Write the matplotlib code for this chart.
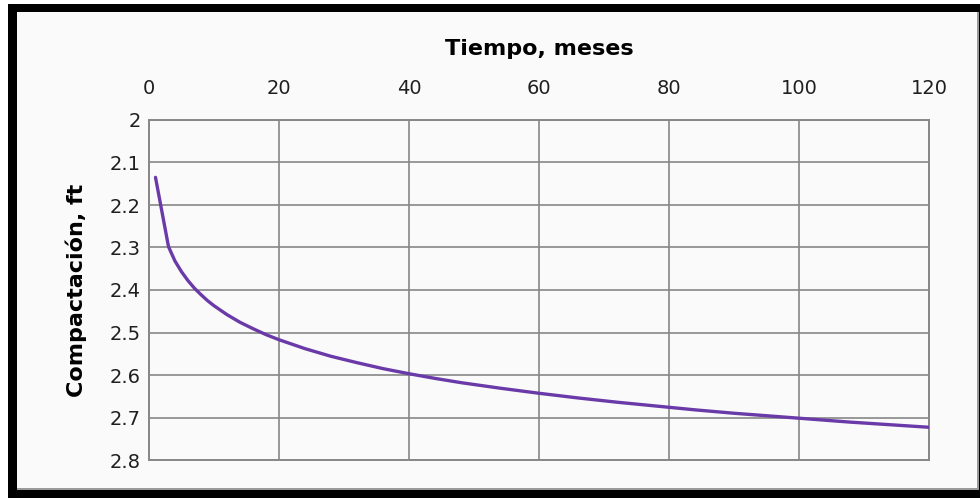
import numpy as np
import matplotlib
matplotlib.use("Agg")
import matplotlib.pyplot as plt
from matplotlib.patches import Rectangle

# datos
tiempo = [1, 3, 4, 5, 6, 7, 8, 9, 10, 12, 14, 16, 18, 20, 24, 28, 32, 36, 40, 44,
          48, 54, 60, 66, 72, 78, 84, 90, 96, 102, 108, 114, 120]
compactacion = [2.135, 2.298, 2.332, 2.357, 2.378, 2.396, 2.411, 2.425, 2.437, 2.458,
                2.476, 2.491, 2.505, 2.517, 2.538, 2.556, 2.571, 2.585, 2.597, 2.608,
                2.618, 2.631, 2.643, 2.654, 2.664, 2.673, 2.682, 2.690, 2.697, 2.704,
                2.711, 2.717, 2.723]
xticks = [0, 20, 40, 60, 80, 100, 120]
yticks = [2, 2.1, 2.2, 2.3, 2.4, 2.5, 2.6, 2.7, 2.8]
ytick_labels = ['2', '2.1', '2.2', '2.3', '2.4', '2.5', '2.6', '2.7', '2.8']

W, H = 980, 498
plt.rcParams['font.family'] = ['DejaVu Sans']

fig = plt.figure(figsize=(W / 100, H / 100), dpi=100, facecolor='white')

# marco negro del grafico
fig.patches.append(Rectangle((8 / W, 0), (W - 8) / W, (H - 4) / H, transform=fig.transFigure,
                             facecolor='black', edgecolor='none', zorder=-3))
fig.patches.append(Rectangle((17 / W, 8 / H), 962 / W, (H - 20) / H, transform=fig.transFigure,
                             facecolor='#9a9a9a', edgecolor='none', zorder=-2))
fig.patches.append(Rectangle((17 / W, 10 / H), 960 / W, (H - 22) / H, transform=fig.transFigure,
                             facecolor='#fafafa', edgecolor='none', zorder=-1))

ax = fig.add_axes([149 / W, 1 - 460 / H, 780 / W, 340 / H])
ax.set_facecolor('#fafafa')

ax.plot(tiempo, compactacion, color='#6a3aa8', lw=2.4, solid_capstyle='round', zorder=3)

ax.set_xlim(0, 120)
ax.set_ylim(2.8, 2)
ax.set_xticks(xticks)
ax.set_yticks(yticks)
ax.set_yticklabels(ytick_labels)

ax.xaxis.tick_top()
ax.xaxis.set_label_position('top')
ax.tick_params(axis='both', length=0, labelsize=14, colors='#1f1f1f')
ax.tick_params(axis='x', pad=16)
ax.tick_params(axis='y', pad=6)

ax.set_xlabel('Tiempo, meses', fontsize=16, fontweight='bold', labelpad=17)
ax.set_ylabel('Compactación, ft', fontsize=16, fontweight='bold', labelpad=16)

ax.grid(True, color='#878787', lw=1.2)
ax.set_axisbelow(True)
for s in ax.spines.values():
    s.set_color('#878787')
    s.set_linewidth(1.4)

fig.savefig('out.png', dpi=100, facecolor=fig.get_facecolor())
